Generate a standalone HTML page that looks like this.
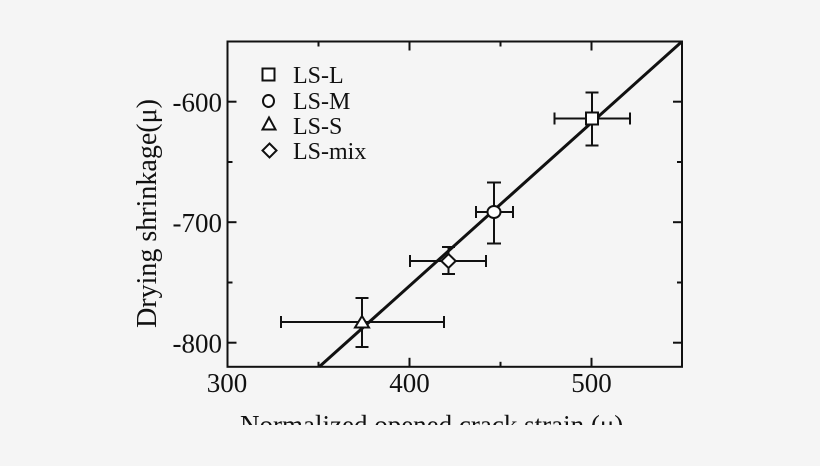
<!DOCTYPE html>
<html>
<head>
<meta charset="utf-8">
<style>
html,body{margin:0;padding:0;background:#f5f5f5;}
svg{display:block;}
text{font-family:"Liberation Serif","Times New Roman",serif;fill:#111;}
</style>
</head>
<body>
<svg width="820" height="466" viewBox="0 0 820 466" xmlns="http://www.w3.org/2000/svg">
<rect x="0" y="0" width="820" height="466" fill="#f5f5f5"/>
<defs>
<clipPath id="clipx"><rect x="0" y="0" width="820" height="425"/></clipPath>
</defs>

<!-- frame -->
<rect x="227.5" y="41.5" width="454.5" height="325.3" fill="none" stroke="#111" stroke-width="2"/>

<!-- ticks -->
<g stroke="#111" stroke-width="2">
  <!-- bottom -->
  <line x1="409.5" y1="366.8" x2="409.5" y2="357.8"/>
  <line x1="591.5" y1="366.8" x2="591.5" y2="357.8"/>
  <line x1="318.5" y1="366.8" x2="318.5" y2="361.8"/>
  <line x1="500.5" y1="366.8" x2="500.5" y2="361.8"/>
  <!-- top -->
  <line x1="409.5" y1="41.5" x2="409.5" y2="50.5"/>
  <line x1="591.5" y1="41.5" x2="591.5" y2="50.5"/>
  <line x1="318.5" y1="41.5" x2="318.5" y2="46.5"/>
  <line x1="500.5" y1="41.5" x2="500.5" y2="46.5"/>
  <!-- left -->
  <line x1="227.5" y1="101.7" x2="236.5" y2="101.7"/>
  <line x1="227.5" y1="222.2" x2="236.5" y2="222.2"/>
  <line x1="227.5" y1="342.7" x2="236.5" y2="342.7"/>
  <line x1="227.5" y1="162" x2="232.5" y2="162"/>
  <line x1="227.5" y1="282.5" x2="232.5" y2="282.5"/>
  <!-- right -->
  <line x1="682" y1="101.7" x2="673" y2="101.7"/>
  <line x1="682" y1="222.2" x2="673" y2="222.2"/>
  <line x1="682" y1="342.7" x2="673" y2="342.7"/>
  <line x1="682" y1="162" x2="677" y2="162"/>
  <line x1="682" y1="282.5" x2="677" y2="282.5"/>
</g>

<!-- tick labels -->
<g font-size="27">
  <text x="227" y="392" text-anchor="middle">300</text>
  <text x="409.5" y="392" text-anchor="middle">400</text>
  <text x="591.5" y="392" text-anchor="middle">500</text>
  <text x="222" y="111.7" text-anchor="end">-600</text>
  <text x="222" y="232.2" text-anchor="end">-700</text>
  <text x="222" y="352.7" text-anchor="end">-800</text>
</g>

<!-- axis titles -->
<text transform="translate(156,213.5) rotate(-90)" font-size="28" text-anchor="middle">Drying shrinkage(μ)</text>
<g clip-path="url(#clipx)">
  <text x="240" y="434" font-size="27">Normalized opened crack strain (μ)</text>
</g>

<!-- error bars -->
<g stroke="#111" stroke-width="2" fill="none">
  <!-- LS-L -->
  <line x1="554.5" y1="118.5" x2="630" y2="118.5"/>
  <line x1="554.5" y1="112.5" x2="554.5" y2="124.5"/>
  <line x1="630" y1="112.5" x2="630" y2="124.5"/>
  <line x1="592" y1="92.5" x2="592" y2="145.5"/>
  <line x1="585.5" y1="92.5" x2="598.5" y2="92.5"/>
  <line x1="585.5" y1="145.5" x2="598.5" y2="145.5"/>
  <!-- LS-M -->
  <line x1="476" y1="212" x2="513" y2="212"/>
  <line x1="476" y1="206" x2="476" y2="218"/>
  <line x1="513" y1="206" x2="513" y2="218"/>
  <line x1="494" y1="182.5" x2="494" y2="243.5"/>
  <line x1="487" y1="182.5" x2="501" y2="182.5"/>
  <line x1="487" y1="243.5" x2="501" y2="243.5"/>
  <!-- LS-mix -->
  <line x1="410" y1="261" x2="486" y2="261"/>
  <line x1="410" y1="255" x2="410" y2="267"/>
  <line x1="486" y1="255" x2="486" y2="267"/>
  <line x1="448.5" y1="247" x2="448.5" y2="274"/>
  <line x1="442" y1="247" x2="455" y2="247"/>
  <line x1="442" y1="274" x2="455" y2="274"/>
  <!-- LS-S -->
  <line x1="281" y1="322" x2="444" y2="322"/>
  <line x1="281" y1="316" x2="281" y2="328"/>
  <line x1="444" y1="316" x2="444" y2="328"/>
  <line x1="362" y1="298" x2="362" y2="347"/>
  <line x1="355.5" y1="298" x2="368.5" y2="298"/>
  <line x1="355.5" y1="347" x2="368.5" y2="347"/>
</g>

<!-- fit line -->
<line x1="319.3" y1="366.8" x2="682" y2="41.5" stroke="#111" stroke-width="3"/>

<!-- markers -->
<g stroke="#111" stroke-width="2" fill="#fff">
  <rect x="586" y="112.5" width="12" height="12"/>
  <ellipse cx="494" cy="212" rx="6.5" ry="6"/>
  <polygon points="448.5,254 455.7,261 448.5,268 441.3,261"/>
  <polygon points="362,316 355,327.5 369,327.5"/>
</g>

<!-- legend -->
<g stroke="#111" stroke-width="2" fill="#fff">
  <rect x="262.5" y="68.5" width="12" height="12"/>
  <ellipse cx="268.5" cy="101" rx="5.5" ry="6"/>
  <polygon points="269,117.5 262.5,129.5 275.5,129.5"/>
  <polygon points="269.5,143.5 276.5,150.5 269.5,157.5 262.5,150.5"/>
</g>
<g font-size="24">
  <text x="293" y="83">LS-L</text>
  <text x="293" y="109">LS-M</text>
  <text x="293" y="134">LS-S</text>
  <text x="293" y="159">LS-mix</text>
</g>
</svg>
</body>
</html>
